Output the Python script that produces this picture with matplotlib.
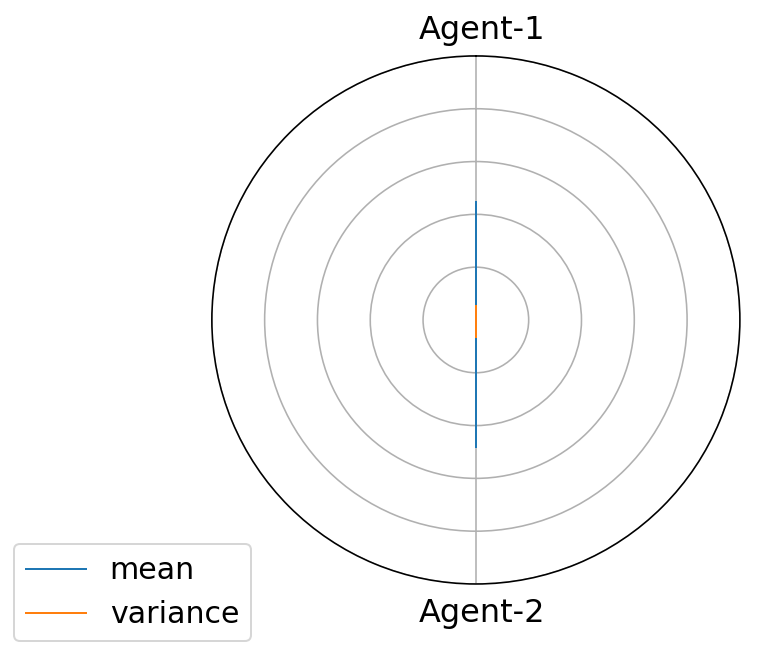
import matplotlib
matplotlib.use('Agg')
import matplotlib.pyplot as plt
import matplotlib.transforms as mtransforms
import numpy as np

# radar data
agents = ['Agent-1', 'Agent-2']
mean_vals = [0.446, 0.482]
variance_vals = [0.054, 0.063]
r_ticks = [0.2, 0.4, 0.6, 0.8, 1.0]

angles = np.linspace(0, 2 * np.pi, len(agents), endpoint=False).tolist()
angles += angles[:1]

def closed(vals):
    return list(vals) + list(vals[:1])

dpi = 144
fig = plt.figure(figsize=(762 / dpi, 657 / dpi), dpi=dpi)
ax = fig.add_axes([0.278, 0.111, 0.693, 0.804], polar=True)
ax.set_theta_offset(np.pi / 2)
ax.set_theta_direction(-1)

ax.plot(angles, closed(mean_vals), color='#1f77b4', linewidth=1.0, label='mean')
ax.plot(angles, closed(variance_vals), color='#ff7f0e', linewidth=1.0, label='variance')

ax.set_xticks(angles[:-1])
ax.set_xticklabels(agents, fontsize=16)
ax.set_ylim(0, 1.0)
ax.set_yticks(r_ticks)
ax.set_yticklabels([])
ax.grid(True, color='#b0b0b0', linewidth=0.8)
ax.tick_params(axis='x', pad=2)

# labels sit a few pixels off the centre line in the original
offsets = [(6.5, 0), (6.5, -5)]
for lbl, (dx, dy) in zip(ax.get_xticklabels(), offsets):
    shift = mtransforms.ScaledTranslation(dx / dpi, dy / dpi, fig.dpi_scale_trans)
    lbl.set_transform(lbl.get_transform() + shift)

fig.legend(loc='lower left', bbox_to_anchor=(0.018, 0.024), fontsize=15,
           borderaxespad=0)

fig.savefig('out.png', dpi=dpi)
